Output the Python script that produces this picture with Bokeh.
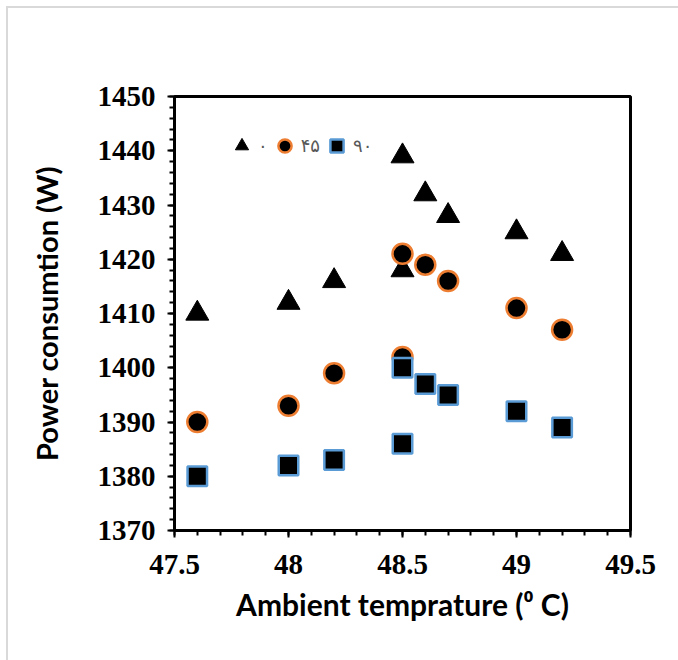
import numpy as np
from bokeh.plotting import figure
from bokeh.models import FixedTicker, Legend, LegendItem, InlineStyleSheet
from bokeh.embed import file_html
from bokeh.resources import INLINE

# ---- data ----
temps = [47.6, 48.0, 48.2, 48.5, 48.5, 48.6, 48.7, 49.0, 49.2]
power_0 = [1410, 1412, 1416, 1418, 1439, 1432, 1428, 1425, 1421]
power_45 = [1390, 1393, 1399, 1402, 1421, 1419, 1416, 1411, 1407]
power_90 = [1380, 1382, 1383, 1386, 1400, 1397, 1395, 1392, 1389]
series_labels = ["۰", "۴۵", "۹۰"]
x_ticks = [47.5, 48.0, 48.5, 49.0, 49.5]
x_tick_labels = ["47.5", "48", "48.5", "49", "49.5"]
y_ticks = [1370, 1380, 1390, 1400, 1410, 1420, 1430, 1440, 1450]
x_title = "Ambient temprature (⁰ C)"
y_title = "Power consumtion (W)"

p = figure(width=678, height=660, output_backend="svg", toolbar_location=None,
           x_range=(47.5, 49.5), y_range=(1370, 1450),
           min_border_left=174, min_border_right=48,
           min_border_top=96, min_border_bottom=130)

p.border_fill_color = "white"
p.background_fill_color = "white"
# chart-area border: only its top and left edges fall inside the picture
p.stylesheets = [InlineStyleSheet(css="""
:host::after {
  content: "";
  position: absolute;
  left: 6px; top: 6px;
  width: calc(100% - 6px); height: calc(100% - 6px);
  border-top: 2px solid #d9d9d9;
  border-left: 2px solid #d9d9d9;
  box-sizing: border-box;
  pointer-events: none;
}
""")]
p.grid.visible = False
p.outline_line_color = "black"
p.outline_line_width = 3
p.outline_line_alpha = 1.0

p.xaxis.ticker = FixedTicker(ticks=x_ticks,
                             minor_ticks=list(np.round(np.arange(47.5, 49.5001, 0.1), 2)))
p.yaxis.ticker = FixedTicker(ticks=y_ticks,
                             minor_ticks=list(range(1370, 1451, 2)))
p.xaxis.major_label_overrides = {t: s for t, s in zip(x_ticks, x_tick_labels)}

for ax in (p.xaxis, p.yaxis):
    ax.axis_line_width = 3
    ax.axis_line_color = "black"
    ax.major_tick_line_width = 2
    ax.minor_tick_line_width = 2
    ax.major_tick_in = 0
    ax.major_tick_out = 7
    ax.minor_tick_in = 0
    ax.minor_tick_out = 5
    ax.major_label_text_font = "Liberation Serif"
    ax.major_label_text_font_style = "bold"
    ax.major_label_text_font_size = "29px"
    ax.major_label_text_color = "black"
    ax.axis_label_text_font = "Lato"
    ax.axis_label_text_font_style = "bold"
    ax.axis_label_text_color = "black"

p.xaxis.axis_label_text_font_size = "30px"
p.yaxis.axis_label_text_font_size = "29px"
p.xaxis.axis_label = x_title
p.yaxis.axis_label = y_title
p.xaxis.major_label_standoff = 17
p.yaxis.major_label_standoff = 12
p.xaxis.axis_label_standoff = 9
p.yaxis.axis_label_standoff = 31

r0 = p.scatter(temps, power_0, marker="triangle", size=23,
               fill_color="black", line_color="black", line_width=1)
r45 = p.scatter(temps, power_45, marker="circle", size=20,
                fill_color="black", line_color="#ED7D31", line_width=2.5)
r90 = p.scatter(temps, power_90, marker="square", size=19.5,
                fill_color="black", line_color="#5B9BD5", line_width=2.5)

legend = Legend(items=[LegendItem(label=series_labels[0], renderers=[r0]),
                       LegendItem(label=series_labels[1], renderers=[r45]),
                       LegendItem(label=series_labels[2], renderers=[r90])],
                orientation="horizontal", location=(51, 368),
                glyph_width=33, glyph_height=33, label_standoff=0, spacing=0,
                label_width=0, label_height=0,
                padding=0, margin=0,
                border_line_color=None, background_fill_alpha=0,
                label_text_font="DejaVu Sans", label_text_font_size="18px",
                label_text_color="#595959")
p.add_layout(legend, "center")

open("out.html", "w").write(file_html(p, INLINE))
